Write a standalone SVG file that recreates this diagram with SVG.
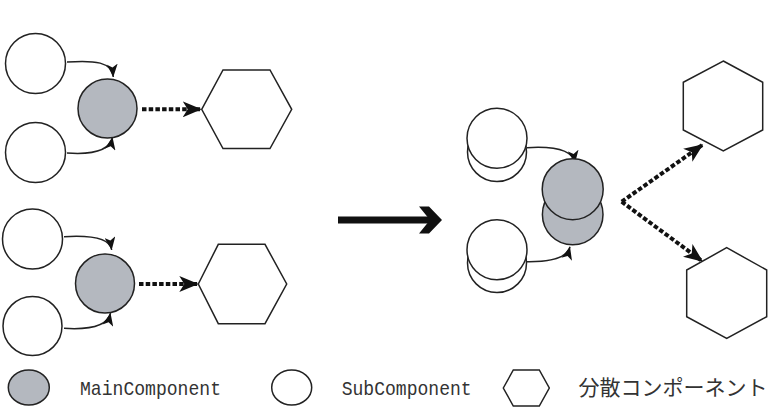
<svg xmlns="http://www.w3.org/2000/svg" width="772" height="420" viewBox="0 0 772 420">
  <defs>
    <style>
      .sub { fill: #ffffff; stroke: #222222; stroke-width: 1.5; }
      .main { fill: #b4b8bf; stroke: #222222; stroke-width: 1.5; }
      .hex { fill: #ffffff; stroke: #222222; stroke-width: 1.5; }
      .link { fill: none; stroke: #222222; stroke-width: 1.5; marker-end: url(#tip); }
      .dist { fill: none; stroke: #111111; stroke-width: 4; stroke-dasharray: 4.5 2.2; marker-end: url(#bigtip); }
      .label { font-family: "Liberation Mono", "DejaVu Sans Mono", monospace; font-size: 21px; fill: #333333; }
      .label-jp { font-family: "Noto Sans CJK JP", "Noto Sans", sans-serif; font-size: 21px; fill: #333333; }
    </style>
    <marker id="tip" viewBox="0 0 13 11" refX="13" refY="5.5" markerWidth="13" markerHeight="11" markerUnits="userSpaceOnUse" orient="auto">
      <path d="M0,0 L13,5.5 L0,11 L3.5,5.5 z" fill="#111111"/>
    </marker>
    <marker id="bigtip" viewBox="0 0 19 16" refX="19" refY="8" markerWidth="19" markerHeight="16" markerUnits="userSpaceOnUse" orient="auto">
      <path d="M0,0 L19,8 L0,16 L5,8 z" fill="#111111"/>
    </marker>
  </defs>

  <!-- connectors -->
  <g id="connectors">
    <!-- upper left cluster -->
    <path class="link" d="M67,62 C95,60 112,62 113.3,77"/>
    <path class="link" d="M67,153 C95,155 110,150 112.5,137"/>
    <path class="dist" d="M142,109.3 L201.7,109.3"/>
    <!-- lower left cluster -->
    <path class="link" d="M64,236.7 C92,235 110,238 111.7,250"/>
    <path class="link" d="M64,328.3 C92,330 108,325 110.5,313"/>
    <path class="dist" d="M139,284 L198.3,284"/>
    <!-- merged cluster on the right -->
    <path class="link" d="M527,147.7 C555,146 573,150 575,163.3"/>
    <path class="link" d="M527,261.7 C552,262 567,258 570,246.7"/>
    <path class="dist" d="M621.7,201.7 L703.3,144.3"/>
    <path class="dist" d="M621.7,201.7 L703,261.7"/>
    <!-- transition arrow -->
    <rect x="338" y="216.5" width="92" height="7" fill="#111111"/>
    <polygon points="419,206.5 429,206.5 442,220 429,233.5 419,233.5 430,220" fill="#111111"/>
  </g>

  <!-- upper left cluster -->
  <g id="sub-a1"><circle class="sub" cx="35.5" cy="63.5" r="30"/></g>
  <g id="sub-a2"><circle class="sub" cx="35.5" cy="152.5" r="30"/></g>
  <g id="main-a"><circle class="main" cx="107.5" cy="108.5" r="29.5"/></g>
  <g id="dist-a"><polygon class="hex" points="201.7,109.3 223,70 270,70 291.7,109.3 270,148.5 223,148.5"/></g>

  <!-- lower left cluster -->
  <g id="sub-b1"><circle class="sub" cx="32.5" cy="239" r="30"/></g>
  <g id="sub-b2"><circle class="sub" cx="32.5" cy="326" r="29.5"/></g>
  <g id="main-b"><circle class="main" cx="105" cy="283.5" r="29.5"/></g>
  <g id="dist-b"><polygon class="hex" points="198.3,284 218.3,244.3 265,244.3 286.7,284 265,323.7 218.3,323.7"/></g>

  <!-- merged cluster: stacked components -->
  <g id="sub-c1">
    <circle class="sub" cx="497" cy="152" r="29.5"/>
    <circle class="sub" cx="497" cy="138.3" r="30"/>
  </g>
  <g id="sub-c2">
    <circle class="sub" cx="497" cy="263" r="29.5"/>
    <circle class="sub" cx="497" cy="249.7" r="30"/>
  </g>
  <g id="main-c">
    <circle class="main" cx="572.7" cy="214.5" r="30.3"/>
    <circle class="main" cx="572.7" cy="189.2" r="30.5"/>
  </g>
  <g id="dist-c1"><polygon class="hex" points="723.3,61 762.7,82.3 762.7,130 723.3,151 683.3,130 683.3,82.3"/></g>
  <g id="dist-c2"><polygon class="hex" points="726.7,247.7 766.7,270 766.7,316.7 726.7,338.3 686.7,316.7 686.7,270"/></g>

  <!-- legend -->
  <g id="legend">
    <ellipse class="main" cx="28.8" cy="387.5" rx="20.5" ry="17.5"/>
    <text class="label" x="80" y="395" textLength="141" lengthAdjust="spacingAndGlyphs">MainComponent</text>
    <ellipse class="sub" cx="291.7" cy="387.5" rx="20" ry="17.5"/>
    <text class="label" x="341.7" y="395" textLength="130" lengthAdjust="spacingAndGlyphs">SubComponent</text>
    <polygon class="hex" points="503.3,388 513.3,370 539.3,370 549.3,388 539.3,406 513.3,406"/>
    <text class="label-jp" x="578.5" y="395">分散コンポーネント</text>
  </g>
</svg>
